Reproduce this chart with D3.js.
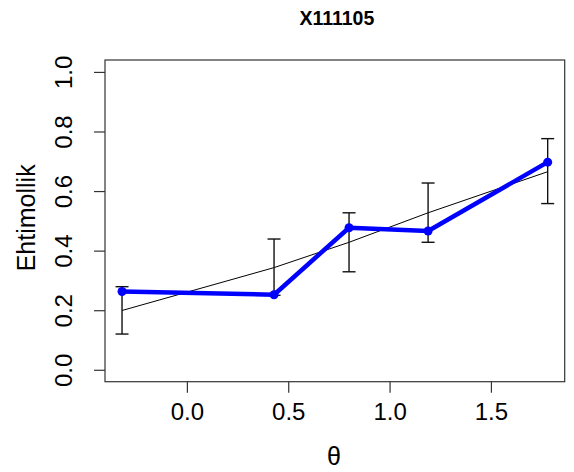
<!DOCTYPE html>
<html>
<head>
<meta charset="utf-8">
<script src="https://cdn.jsdelivr.net/npm/d3@7"></script>
<style>
  html, body { margin: 0; padding: 0; background: #fff; }
  svg { display: block; }
  text { font-family: "Liberation Sans", Arial, sans-serif; }
</style>
</head>
<body>
<svg id="chart" width="574" height="472"></svg>
<script>
// ---- data ----
const title = "X111105";
const xLabel = "θ";
const yLabel = "Ehtimollik";
const theta    = [-0.32, 0.43, 0.80, 1.19, 1.78];
const observed = [0.263, 0.252, 0.477, 0.466, 0.697];
const expected = [0.199, 0.343, 0.428, 0.527, 0.665];
const lower    = [0.120, 0.250, 0.329, 0.428, 0.558];
const upper    = [0.279, 0.439, 0.527, 0.627, 0.776];
const xTicks = [0.0, 0.5, 1.0, 1.5];
const yTicks = [0.0, 0.2, 0.4, 0.6, 0.8, 1.0];

// ---- layout ----
const svg = d3.select("#chart");
const plot = { left: 105, right: 564.7, top: 60, bottom: 381.7 };

const xExt = d3.extent(theta);
const xPad = (xExt[1] - xExt[0]) * 0.04;
const x = d3.scaleLinear().domain([xExt[0] - xPad, xExt[1] + xPad]).range([plot.left, plot.right]);
const y = d3.scaleLinear().domain([-0.04, 1.04]).range([plot.bottom, plot.top]);

const fmt = d3.format(".1f");

// box
svg.append("rect")
  .attr("x", plot.left).attr("y", plot.top)
  .attr("width", plot.right - plot.left).attr("height", plot.bottom - plot.top)
  .attr("fill", "none").attr("stroke", "#333").attr("stroke-width", 1.2);

// x axis
const xAxis = d3.axisBottom(x).tickValues(xTicks).tickSize(11).tickPadding(9).tickFormat(fmt);
const gx = svg.append("g").attr("transform", `translate(0,${plot.bottom})`).call(xAxis);
gx.select(".domain").remove();
gx.selectAll(".tick line").attr("stroke", "#333").attr("stroke-width", 1.2);
gx.selectAll(".tick text")
  .attr("font-size", 24).attr("fill", "#000")
  .attr("font-family", "'Liberation Sans', Arial, sans-serif")
  .attr("dy", null).attr("y", 38.3);

// y axis
const yAxis = d3.axisLeft(y).tickValues(yTicks).tickSize(11).tickFormat(fmt);
const gy = svg.append("g").attr("transform", `translate(${plot.left},0)`).call(yAxis);
gy.select(".domain").remove();
gy.selectAll(".tick line").attr("stroke", "#333").attr("stroke-width", 1.2);
gy.selectAll(".tick text")
  .attr("font-size", 24).attr("fill", "#000")
  .attr("font-family", "'Liberation Sans', Arial, sans-serif")
  .attr("x", null).attr("dy", null)
  .attr("text-anchor", "middle")
  .attr("transform", "translate(-33,0) rotate(-90)");

// titles
svg.append("text")
  .attr("x", (plot.left + plot.right) / 2 + 2).attr("y", 25)
  .attr("text-anchor", "middle").attr("font-weight", "bold").attr("font-size", 19.5)
  .text(title);

svg.append("text")
  .attr("x", (plot.left + plot.right) / 2 - 1).attr("y", 465)
  .attr("text-anchor", "middle").attr("font-size", 25)
  .text(xLabel);

svg.append("text")
  .attr("transform", `translate(35,${(plot.top + plot.bottom) / 2 - 3}) rotate(-90)`)
  .attr("text-anchor", "middle").attr("font-size", 25)
  .text(yLabel);

// expected curve
const pts = theta.map((t, i) => ({ t, o: observed[i], e: expected[i], lo: lower[i], hi: upper[i] }));
svg.append("path")
  .datum(pts)
  .attr("d", d3.line().x(d => x(d.t)).y(d => y(d.e)))
  .attr("fill", "none").attr("stroke", "#000").attr("stroke-width", 1);

// error bars
const eb = svg.append("g").attr("stroke", "#111").attr("stroke-width", 1.4);
const capW = 6.5;
pts.forEach(d => {
  eb.append("line").attr("x1", x(d.t)).attr("x2", x(d.t)).attr("y1", y(d.lo)).attr("y2", y(d.hi));
  eb.append("line").attr("x1", x(d.t) - capW).attr("x2", x(d.t) + capW).attr("y1", y(d.lo)).attr("y2", y(d.lo));
  eb.append("line").attr("x1", x(d.t) - capW).attr("x2", x(d.t) + capW).attr("y1", y(d.hi)).attr("y2", y(d.hi));
});

// observed line + points
svg.append("path")
  .datum(pts)
  .attr("d", d3.line().x(d => x(d.t)).y(d => y(d.o)))
  .attr("fill", "none").attr("stroke", "#0000FF").attr("stroke-width", 4.5)
  .attr("stroke-linejoin", "round");
svg.append("g").selectAll("circle").data(pts).join("circle")
  .attr("cx", d => x(d.t)).attr("cy", d => y(d.o)).attr("r", 4.5)
  .attr("fill", "#0000FF");
</script>
</body>
</html>
